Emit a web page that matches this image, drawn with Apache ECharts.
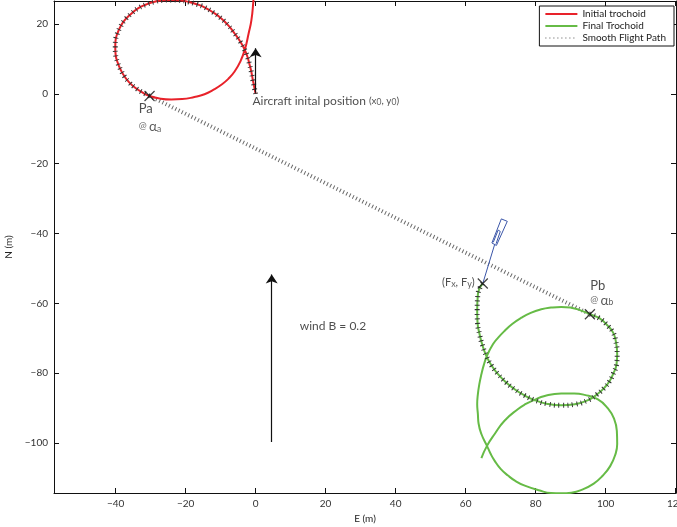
<!DOCTYPE html>
<html>
<head>
  <meta charset="UTF-8">
  <script src="https://cdn.jsdelivr.net/npm/echarts@6/dist/echarts.min.js"></script>
  <style>
    html, body { margin: 0; padding: 0; background: #fff; }
    #main { width: 677px; height: 527px; }
  </style>
</head>
<body>
  <div id="main"></div>
  <script>
    // tick positions
    var xTicks = [-40, -20, 0, 20, 40, 60, 80, 100, 120];
    var yTicks = [20, 0, -20, -40, -60, -80, -100];

    // initial trochoid, from aircraft start (0,0) round the loop and out of the top
    var redTrochoid = [
      [0, 0], [-0.4, 2], [-0.8, 4], [-1.2, 6.2], [-1.7, 8.3], [-2.3, 10.5], [-3.1, 12.6],
      [-4.4, 15], [-6, 17.3], [-7.8, 19.6], [-9.8, 21.6], [-12.1, 23.3], [-14.6, 24.8],
      [-16.9, 25.7], [-19.3, 26.4], [-21.7, 26.8], [-24.1, 26.9], [-26.5, 26.8],
      [-28.9, 26.4], [-31.3, 25.6], [-33.6, 24.5], [-35.6, 22.9], [-37.4, 21.1],
      [-38.6, 19.3], [-39.5, 17.3], [-40, 15.4], [-40.1, 13.5], [-40, 11.3],
      [-39.5, 9.2], [-38.6, 7], [-37.4, 4.9], [-36.1, 3.3], [-34.6, 1.9], [-32.5, 0.5],
      [-30.3, -0.6],
      [-27.5, -1.3], [-24.1, -1.6], [-21, -1.5], [-17.5, -0.9], [-14.6, -0.1], [-12, 1.2],
      [-9.8, 2.6], [-7.8, 4.3], [-6, 6.4], [-4.4, 9.2], [-3.1, 12.6], [-2, 17.3],
      [-1.2, 21.1], [-0.6, 26.9], [-0.3, 30]
    ];
    var redFlownEnd = 34;   // index of Pa

    // final trochoid, from its lower end up to (Fx, Fy)
    var greenTrochoid = [
      [64.5, -104.3], [66.1, -100.8], [68.3, -97.4], [71.1, -93.6], [74.9, -90.3],
      [77.2, -88.8], [79.5, -87.7], [82.6, -86.5], [87.3, -85.8], [91, -85.8], [94, -86.2],
      [97.8, -87.5], [100.6, -90], [102.4, -93], [103.2, -96.5], [103.3, -100.3],
      [102.7, -103.5], [101.3, -106.6], [99.2, -109.3], [96.6, -111.6], [93.1, -113.4],
      [90.2, -114.2], [87.3, -114.4], [84.4, -114.3], [81.2, -113.6], [76.9, -112.2],
      [74.3, -110.9], [72.1, -109.3], [70, -107.4], [68.3, -105.1], [67.1, -103], [66.1, -100.8],
      [64.5, -97.4], [63.7, -94.4], [63.5, -91.7], [63.3, -88.9], [63.5, -86], [63.9, -83.2],
      [64.5, -80.3], [65.2, -77.6], [66.1, -75], [67.8, -71.7], [69.3, -69.8], [71.1, -67.9],
      [73.3, -65.9], [75.9, -64.1], [78.6, -62.7], [81.6, -61.7], [84.4, -61.2], [87.3, -61],
      [90, -61.2], [92.1, -61.7], [95.5, -63.1],
      [98.3, -64.3], [100.7, -66.5], [102.1, -68.3], [102.8, -70.3], [103.3, -74.6],
      [103.1, -77.5], [102.1, -80.3], [101.1, -82.3], [99.7, -84.1], [97.5, -86.1], [95, -87.7],
      [91.2, -88.9], [87.3, -89.2], [83.4, -88.8], [79.7, -87.7], [76.7, -86.3], [74, -84.6],
      [71.5, -82.6], [69.3, -80.3], [67.4, -77.8], [65.9, -75], [64.8, -72], [64, -68.9],
      [63.4, -65.5], [63.3, -62.2], [63.5, -57.4], [64.9, -54.3]
    ];
    var greenFlownStart = 52;   // index of Pb

    var flightPath = [[-30.3, -0.6], [95.5, -63.1]];
    var crossPts = [[-30.3, -0.6], [95.5, -63.1], [64.9, -54.3]];

    var arrowLines = [
      [[0, 0.3], [0, 13.1]],
      [[4.6, -99.7], [4.6, -51.7]]
    ];

    var craftStem = [[64.9, -54.3], [68.3, -43.1]];
    var craftBody = [[67.5, -42.7], [68.8, -43.4], [71.9, -36.5], [70.2, -35.8], [67.5, -42.7]];
    var craftInner = [[67.9, -42.5], [69.3, -39], [69.9, -39.4], [68.7, -42.9]];

    var labelAt = [[-33.4, -4.3], [-33.4, -9.3], [-0.9, -2.1], [62.6, -54.1], [95.6, -54.9], [95.6, -59.1], [12.6, -66.6]];
    var labelText = [
      '{big|Pa}',
      '{at|@ }{al|α}{sub|a}',
      '{txt|Aircraft inital position }{sm|(x}{sub|0}{sm|, y}{sub|0}{sm|)}',
      '{fx|(F}{sub2|x}{fx|, F}{sub2|y}{fx|)}',
      '{big|Pb}',
      '{at|@ }{al|α}{sub|b}',
      '{txt|wind B = 0.2}'
    ];

    var FONT = 'Lato';
    var minus = function (v) { return String(v).replace('-', '\u2212'); };

    var myChart = echarts.init(document.getElementById('main'));

    var labelData = labelAt.map(function (p, i) {
      var d = { value: p, text: labelText[i] };
      if (i === 3) d.label = { position: 'left' };
      return d;
    });

    var axisCommon = {
      type: 'value',
      axisLine: { show: true, onZero: false, lineStyle: { color: '#111', width: 1 } },
      splitLine: { show: false }
    };

    myChart.setOption({
      animation: false,
      textStyle: { fontFamily: FONT },
      grid: { left: 54, right: 1, top: 1, bottom: 34, containLabel: false, outerBoundsMode: 'none' },
      legend: {
        orient: 'vertical',
        right: 3,
        top: 6,
        itemWidth: 32,
        itemHeight: 2,
        itemGap: 2,
        padding: [3, 8, 3, 5],
        borderColor: '#111',
        borderWidth: 1,
        backgroundColor: '#fff',
        itemStyle: { opacity: 0 },
        textStyle: { fontFamily: FONT, fontSize: 10, color: '#222' },
        data: [
          { name: 'Initial trochoid' },
          { name: 'Final Trochoid' },
          { name: 'Smooth Flight Path', lineStyle: { width: 1, type: [1, 3], color: '#555' } }
        ]
      },
      xAxis: [
        Object.assign({}, axisCommon, {
          position: 'bottom', min: -57.6, max: 120.1,
          name: 'E (m)', nameLocation: 'middle', nameGap: 20,
          nameTextStyle: { fontFamily: FONT, fontSize: 10, color: '#222' },
          axisTick: { show: true, inside: true, length: 5, customValues: xTicks, lineStyle: { color: '#111' } },
          axisLabel: { customValues: xTicks, formatter: minus, fontSize: 10, color: '#333', margin: 6 }
        }),
        Object.assign({}, axisCommon, {
          position: 'top', min: -57.6, max: 120.1,
          axisTick: { show: true, inside: true, length: 5, customValues: xTicks, lineStyle: { color: '#111' } },
          axisLabel: { show: false }
        })
      ],
      yAxis: [
        Object.assign({}, axisCommon, {
          position: 'left', min: -114.3, max: 26.6,
          name: 'N (m)', nameLocation: 'middle', nameGap: 30, nameRotate: 90,
          nameTextStyle: { fontFamily: FONT, fontSize: 10, color: '#222' },
          axisTick: { show: true, inside: true, length: 5, customValues: yTicks, lineStyle: { color: '#111' } },
          axisLabel: { customValues: yTicks, formatter: minus, fontSize: 10, color: '#333', margin: 6 }
        }),
        Object.assign({}, axisCommon, {
          position: 'right', min: -114.3, max: 26.6,
          axisTick: { show: true, inside: true, length: 5, customValues: yTicks, lineStyle: { color: '#111' } },
          axisLabel: { show: false }
        })
      ],
      series: [
        {
          name: 'Initial trochoid', type: 'line', data: redTrochoid,
          smooth: 0.5, symbol: 'none', z: 3,
          itemStyle: { color: '#e8222a' },
          lineStyle: { color: '#e8222a', width: 2 }
        },
        {
          type: 'line', data: redTrochoid.slice(0, redFlownEnd + 1),
          smooth: 0.5, symbol: 'none', z: 4, silent: true,
          lineStyle: { color: '#333', width: 5, type: [1, 3.5] }
        },
        {
          name: 'Final Trochoid', type: 'line', data: greenTrochoid,
          smooth: 0.5, symbol: 'none', z: 3,
          itemStyle: { color: '#66bb46' },
          lineStyle: { color: '#66bb46', width: 2 }
        },
        {
          type: 'line', data: greenTrochoid.slice(greenFlownStart),
          smooth: 0.5, symbol: 'none', z: 4, silent: true,
          lineStyle: { color: '#333', width: 5, type: [1, 3.5] }
        },
        {
          name: 'Smooth Flight Path', type: 'line', data: flightPath,
          symbol: 'none', z: 2,
          itemStyle: { color: '#666' },
          lineStyle: { color: '#6a6a6a', width: 4, type: [1, 2.6] }
        },
        {
          type: 'line', data: craftStem, symbol: 'none', z: 2, silent: true,
          lineStyle: { color: '#3a55a8', width: 1 }
        },
        {
          type: 'line', data: craftBody, symbol: 'none', z: 2, silent: true,
          lineStyle: { color: '#3a55a8', width: 1 }
        },
        {
          type: 'line', data: craftInner, symbol: 'none', z: 2, silent: true,
          lineStyle: { color: '#3a55a8', width: 1 }
        },
        {
          type: 'lines', coordinateSystem: 'cartesian2d', z: 5, silent: true,
          symbol: ['none', 'arrow'], symbolSize: 9,
          lineStyle: { color: '#111', width: 1.2, opacity: 1, curveness: 0 },
          data: arrowLines.map(function (c) { return { coords: c }; })
        },
        {
          type: 'scatter', data: crossPts, z: 6, silent: true,
          symbol: 'path://M0,0L10,10M10,0L0,10', symbolSize: 10,
          itemStyle: { color: 'none', borderColor: '#111', borderWidth: 1.2 }
        },
        {
          type: 'scatter', data: labelData, z: 7, silent: true,
          symbolSize: 0,
          label: {
            show: true, position: 'right', distance: 0,
            formatter: function (p) { return p.data.text; },
            fontFamily: FONT, color: '#222',
            rich: {
              big: { fontFamily: FONT, fontSize: 13, color: '#222' },
              at: { fontFamily: FONT, fontSize: 9.5, color: '#444' },
              al: { fontFamily: FONT, fontSize: 13.5, color: '#333' },
              sub: { fontFamily: FONT, fontSize: 8.5, color: '#333', verticalAlign: 'bottom' },
              sub2: { fontFamily: FONT, fontSize: 9, color: '#333', verticalAlign: 'bottom' },
              txt: { fontFamily: FONT, fontSize: 12, color: '#222' },
              fx: { fontFamily: FONT, fontSize: 11, color: '#222' },
              sm: { fontFamily: FONT, fontSize: 10, color: '#222' }
            }
          }
        }
      ]
    });
  </script>
</body>
</html>
